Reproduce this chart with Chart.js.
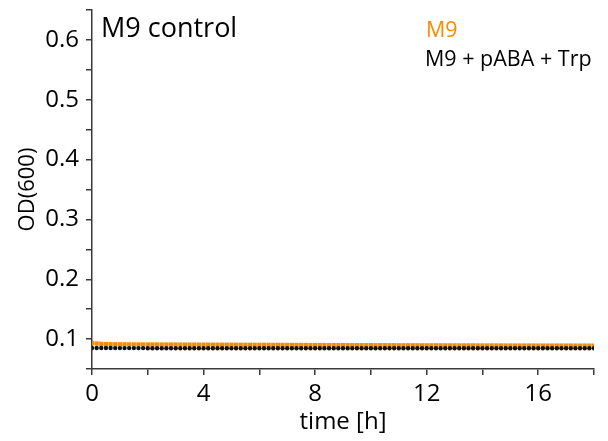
<!DOCTYPE html>
<html>
<head>
<meta charset="utf-8">
<title>M9 control</title>
<script src="https://cdn.jsdelivr.net/npm/chart.js@4.4.1/dist/chart.umd.min.js"></script>
<style>
  html, body { margin: 0; padding: 0; background: #fff; }
  #wrap { width: 608px; height: 441px; }
</style>
</head>
<body>
<div id="wrap"><canvas id="odChart" width="608" height="441"></canvas></div>
<script>
// Curva de crecimiento OD(600) - control en M9
const timeMin = [
  0,10,20,30,40,50,60,70,80,90,100,110,120,130,140,150,160,170,180,190,
  200,210,220,230,240,250,260,270,280,290,300,310,320,330,340,350,360,370,380,390,
  400,410,420,430,440,450,460,470,480,490,500,510,520,530,540,550,560,570,580,590,
  600,610,620,630,640,650,660,670,680,690,700,710,720,730,740,750,760,770,780,790,
  800,810,820,830,840,850,860,870,880,890,900,910,920,930,940,950,960,970,980,990,
  1000,1010,1020,1030,1040,1050,1060,1070,1080
];
const odM9 = [
  0.0935,0.0926,0.0920,0.0916,0.0914,0.0913,0.0912,0.0912,0.0911,0.0911,
  0.0911,0.0910,0.0910,0.0910,0.0910,0.0909,0.0909,0.0909,0.0909,0.0908,
  0.0908,0.0908,0.0908,0.0907,0.0907,0.0907,0.0907,0.0906,0.0906,0.0906,
  0.0906,0.0905,0.0905,0.0905,0.0905,0.0904,0.0904,0.0904,0.0904,0.0903,
  0.0903,0.0903,0.0903,0.0902,0.0902,0.0902,0.0902,0.0901,0.0901,0.0901,
  0.0901,0.0900,0.0900,0.0900,0.0900,0.0900,0.0899,0.0899,0.0899,0.0899,
  0.0899,0.0898,0.0898,0.0898,0.0898,0.0898,0.0897,0.0897,0.0897,0.0897,
  0.0897,0.0896,0.0896,0.0896,0.0896,0.0896,0.0896,0.0895,0.0895,0.0895,
  0.0895,0.0895,0.0895,0.0894,0.0894,0.0894,0.0894,0.0894,0.0894,0.0893,
  0.0893,0.0893,0.0893,0.0893,0.0893,0.0893,0.0892,0.0892,0.0892,0.0892,
  0.0892,0.0892,0.0892,0.0892,0.0891,0.0891,0.0891,0.0891,0.0891
];
const odM9pabaTrp = [
  0.0852,0.0851,0.0850,0.0850,0.0850,0.0849,0.0849,0.0849,0.0849,0.0849,
  0.0849,0.0849,0.0848,0.0848,0.0848,0.0848,0.0848,0.0848,0.0848,0.0848,
  0.0848,0.0848,0.0848,0.0848,0.0848,0.0848,0.0848,0.0848,0.0848,0.0848,
  0.0848,0.0848,0.0848,0.0848,0.0848,0.0848,0.0848,0.0848,0.0848,0.0848,
  0.0848,0.0848,0.0848,0.0848,0.0848,0.0848,0.0848,0.0848,0.0848,0.0848,
  0.0848,0.0848,0.0848,0.0848,0.0848,0.0848,0.0848,0.0848,0.0848,0.0848,
  0.0848,0.0848,0.0848,0.0848,0.0848,0.0848,0.0848,0.0848,0.0848,0.0848,
  0.0848,0.0848,0.0848,0.0848,0.0848,0.0848,0.0848,0.0848,0.0848,0.0848,
  0.0848,0.0848,0.0848,0.0848,0.0848,0.0848,0.0848,0.0848,0.0848,0.0848,
  0.0848,0.0848,0.0848,0.0848,0.0848,0.0848,0.0848,0.0848,0.0848,0.0848,
  0.0848,0.0848,0.0848,0.0848,0.0848,0.0848,0.0848,0.0848,0.0848
];
const seriesNames = ['M9', 'M9 + pABA + Trp'];
const seriesColors = ['#ff8a00', '#111111'];
const panelTitle = 'M9 control';
const xTitle = 'time [h]';
const yTitle = 'OD(600)';

const FONT = "'Open Sans', 'DejaVu Sans', sans-serif";
const axisColor = '#3a3a3a';

function toPoints(values) {
  return values.map((v, i) => ({x: timeMin[i] / 60, y: v}));
}

// textos dentro del area de graficado
const textPlugin = {
  id: 'textos',
  afterDraw(chart) {
    const ctx = chart.ctx;
    ctx.save();
    ctx.textAlign = 'left';
    ctx.textBaseline = 'alphabetic';
    ctx.fillStyle = '#000';
    ctx.font = `27px ${FONT}`;
    ctx.fillText(panelTitle, 101, 37);
    ctx.font = `21.5px ${FONT}`;
    ctx.fillStyle = seriesColors[0];
    ctx.fillText(seriesNames[0], 426, 37);
    ctx.fillStyle = '#000';
    ctx.fillText(seriesNames[1], 425, 66);
    ctx.restore();
  }
};

const ctx = document.getElementById('odChart');
const myChart = new Chart(ctx, {
  type: 'line',
  data: {
    datasets: [
      {
        label: seriesNames[1],
        data: toPoints(odM9pabaTrp),
        showLine: false,
        pointStyle: 'circle',
        pointRadius: 2.2,
        pointBorderWidth: 0,
        backgroundColor: seriesColors[1],
        borderColor: seriesColors[1],
      },
      {
        label: seriesNames[0],
        data: toPoints(odM9),
        showLine: false,
        pointStyle: 'rect',
        pointRadius: 3,
        pointBorderWidth: 0,
        backgroundColor: seriesColors[0],
        borderColor: seriesColors[0],
      },
    ],
  },
  options: {
    responsive: false,
    animation: false,
    layout: { padding: { left: 0, top: 10, right: 14, bottom: 0 } },
    plugins: { legend: { display: false }, tooltip: { enabled: false } },
    scales: {
      x: {
        type: 'linear',
        min: 0,
        max: 18,
        border: { display: true, color: axisColor, width: 1.5 },
        grid: { display: true, drawOnChartArea: false, drawTicks: true, tickLength: 6, color: axisColor, lineWidth: 1.5 },
        ticks: {
          stepSize: 2,
          autoSkip: false,
          maxRotation: 0,
          padding: 5,
          color: '#000',
          font: { family: FONT, size: 24 },
          callback: (v) => (v % 4 === 0 ? String(v) : ''),
        },
        title: { display: true, text: xTitle, color: '#000', font: { family: FONT, size: 24 }, padding: { top: 0, bottom: 4 } },
        afterFit: (s) => { s.height = 72; s.paddingLeft = 0; s.paddingRight = 0; },
      },
      y: {
        type: 'linear',
        min: 0.05,
        max: 0.65,
        border: { display: true, color: axisColor, width: 1.5 },
        grid: { display: true, drawOnChartArea: false, drawTicks: true, tickLength: 6, color: axisColor, lineWidth: 1.5 },
        ticks: {
          stepSize: 0.05,
          autoSkip: false,
          padding: 7,
          color: '#000',
          font: { family: FONT, size: 24 },
          callback: (v) => {
            const k = Math.round(v * 100);
            return k % 10 === 0 ? (k / 100).toFixed(1) : '';
          },
        },
        title: { display: true, text: yTitle, color: '#000', font: { family: FONT, size: 22 }, padding: { top: 15, bottom: 0 } },
        afterFit: (s) => { s.width = 92; s.paddingTop = 0; s.paddingBottom = 0; },
      },
    },
  },
  plugins: [textPlugin],
});
</script>
</body>
</html>
